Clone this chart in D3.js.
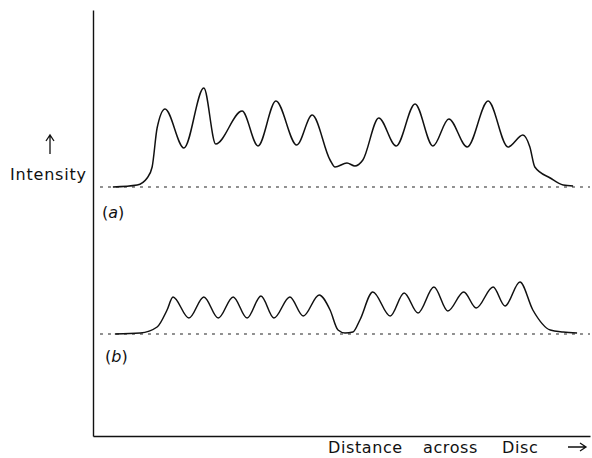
<!DOCTYPE html>
<html>
<head>
<meta charset="utf-8">
<script src="https://cdnjs.cloudflare.com/ajax/libs/d3/7.8.5/d3.min.js"></script>
<style>
	body { margin: 0; background: #fff; }
	text { font-family: "DejaVu Sans", sans-serif; fill: #111; }
</style>
</head>
<body>
<svg id="svg" width="592" height="458"></svg>
<script>
// distance across disc (0-100) and intensity (arbitrary units)
var distanceA = [4.0, 8.9, 10.9, 11.9, 12.9, 14.5, 18.3, 22.3, 24.7, 30.0, 33.2, 36.8, 41.0, 44.1,
	47.7, 48.7, 51.1, 52.7, 54.3, 57.5, 61.0, 64.8, 68.4, 71.6, 75.3, 79.5, 83.5, 86.5, 87.9,
	88.9, 92.0, 94.6, 96.6];
var intensityA = [0, 2, 9, 20, 59, 78, 39, 99, 43, 76, 41, 86, 42, 72,
	27, 20, 24, 21, 27, 69, 41, 83, 41, 68, 40, 86, 40, 52, 40,
	20, 9, 2, 1];

var distanceB = [4.4, 9.5, 12.9, 14.9, 16.1, 19.3, 22.3, 25.2, 28.2, 31.0, 33.8, 36.4, 39.6, 42.3,
	45.5, 47.7, 49.3, 50.7, 52.3, 53.7, 56.3, 59.8, 62.6, 65.4, 68.6, 71.4, 74.6, 77.1, 80.5,
	82.9, 85.9, 88.5, 92.0, 94.6, 97.4];
var intensityB = [0, 1, 7, 24, 37, 16, 37, 16, 37, 16, 38, 16, 37, 18,
	39, 24, 4, 1, 2, 14, 42, 18, 41, 21, 47, 23, 42, 26, 47,
	28, 52, 24, 4, 2, 1];

var panelLabels = ["(a)", "(b)"];
var xLabelWords = ["Distance", "across", "Disc"];
var yLabel = "Intensity";

var LP = {};

LP.x = d3.scaleLinear().domain([0, 100]).range([93, 590]);

// each trace sits on its own dashed zero line
LP.panels = [
	{ label: panelLabels[0], dist: distanceA, inten: intensityA, base: 187 },
	{ label: panelLabels[1], dist: distanceB, inten: intensityB, base: 334 }
];

LP.draw = function(){
	var svg = d3.select('#svg');

	// frame: left and bottom axes, no ticks
	var yFrame = d3.scaleLinear().domain([0, 1]).range([436, 10]);
	svg.append('g')
		.attr('transform', 'translate(93,0)')
		.call(d3.axisLeft(yFrame).ticks(0).tickSizeOuter(0))
		.select('.domain').attr('stroke', '#111').attr('stroke-width', 1.4);
	svg.append('g')
		.attr('transform', 'translate(0,436)')
		.call(d3.axisBottom(LP.x).ticks(0).tickSizeOuter(0))
		.select('.domain').attr('stroke', '#111').attr('stroke-width', 1.4);

	LP.panels.forEach(function(p, i){
		var y = d3.scaleLinear().domain([0, 100]).range([p.base, p.base - 100]);
		var pts = p.dist.map(function(d, k){ return [d, p.inten[k]]; });

		svg.append('line')
			.attr('x1', LP.x(1.4)).attr('x2', LP.x(100))
			.attr('y1', y(0)).attr('y2', y(0))
			.attr('stroke', '#222')
			.attr('stroke-width', 1.1)
			.attr('stroke-dasharray', '3,5');

		// monotone keeps the tops round and the tails flat
		var line = d3.line()
			.x(function(d){ return LP.x(d[0]); })
			.y(function(d){ return y(d[1]); })
			.curve(d3.curveMonotoneX);

		svg.append('path')
			.datum(pts)
			.attr('d', line)
			.attr('fill', 'none')
			.attr('stroke', '#111')
			.attr('stroke-width', 1.5);

		var lbl = svg.append('text')
			.attr('x', i === 0 ? 102 : 105)
			.attr('y', p.base + (i === 0 ? 31 : 28))
			.style('font-size', '16px');
		lbl.append('tspan').text('(');
		lbl.append('tspan').style('font-style', 'italic').text(p.label.slice(1, 2));
		lbl.append('tspan').text(')');
	});

	// y label with up arrow
	svg.append('text')
		.attr('x', 10).attr('y', 180)
		.style('font-size', '16px')
		.style('letter-spacing', '0.8px')
		.text(yLabel);
	svg.append('path')
		.attr('d', 'M50,154 L50,136 M46,141 L50,135 L54,141')
		.attr('fill', 'none')
		.attr('stroke', '#111')
		.attr('stroke-width', 1.3);

	// x label, words spread out as in the original
	var wordX = [328, 423, 502];
	svg.selectAll('text.xw')
		.data(xLabelWords)
		.enter()
		.append('text')
		.attr('class', 'xw')
		.attr('x', function(d, k){ return wordX[k]; })
		.attr('y', 453)
		.style('font-size', '16px')
		.style('letter-spacing', '0.6px')
		.text(function(d){ return d; });
	svg.append('path')
		.attr('d', 'M568,447 L586,447 M580,443 L586,447 L580,451')
		.attr('fill', 'none')
		.attr('stroke', '#111')
		.attr('stroke-width', 1.3);
};

LP.draw();
</script>
</body>
</html>
